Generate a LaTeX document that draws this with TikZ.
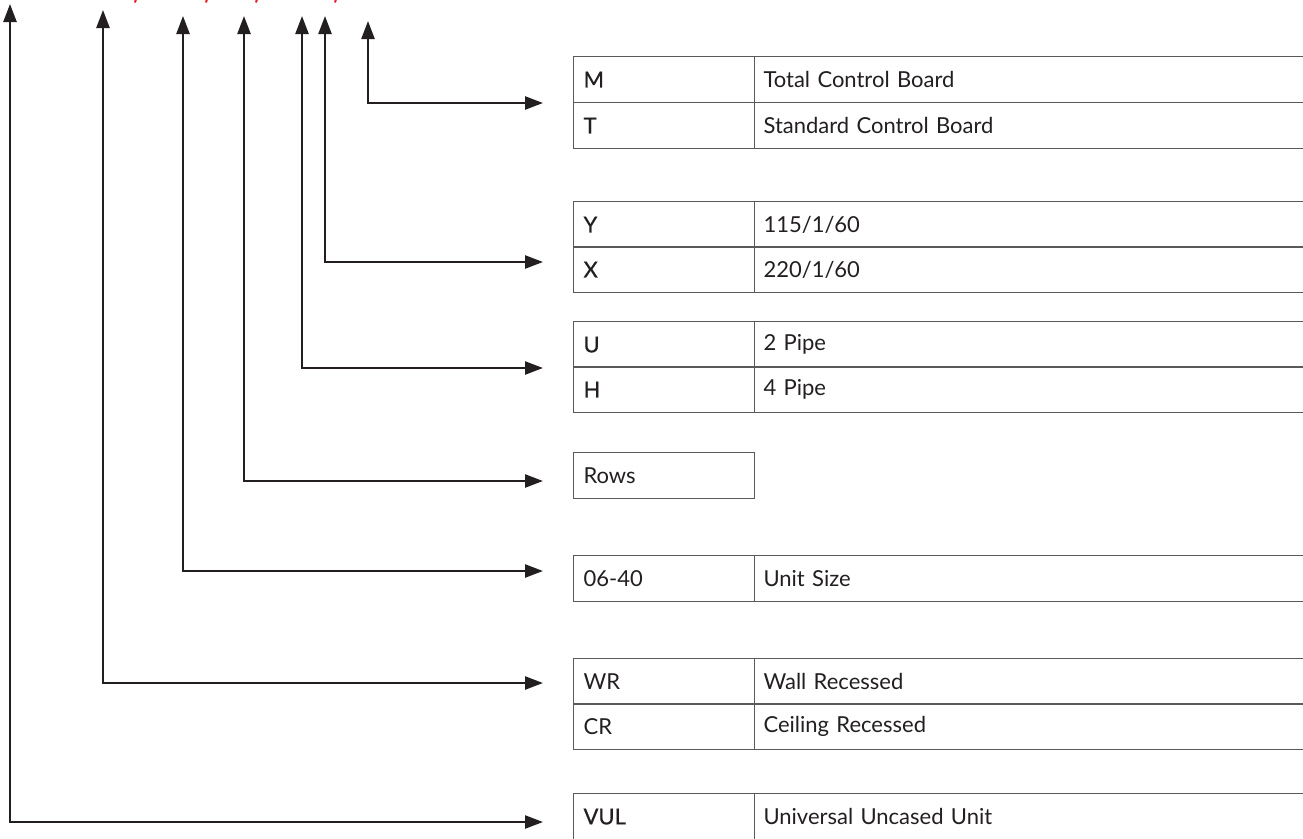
\documentclass[tikz,border=0pt]{standalone}
\usepackage{fontspec}
\setmainfont{Lato}
\newfontfamily\medfont[FakeBold=0.6]{Lato}
\usetikzlibrary{arrows.meta}
\definecolor{ink}{HTML}{231F20}
\definecolor{rulec}{HTML}{5A5A5A}
\definecolor{redmark}{HTML}{E8202A}
\tikzset{
  cellbase/.style={draw=rulec, line width=1.1pt, anchor=north west, inner ysep=0pt,
    minimum height=46pt, align=left, text=ink, font=\fontsize{22}{26}\selectfont},
  keycell/.style={cellbase, text width=161pt, inner xsep=10pt},
  valcell/.style={cellbase, text width=556pt, inner xsep=9pt},
  arr/.style={draw=ink, line width=2.4pt,
    {Triangle[length=18pt,width=13pt]}-{Triangle[length=18pt,width=13pt]}},
  redtick/.style={draw=redmark, line width=2pt}
}
\begin{document}
\begin{tikzpicture}[x=1pt,y=-1pt]
\clip (0,0) rectangle (1303,838);
\fill[white] (0,0) rectangle (1303,838);
% red fragments at the top edge
\draw[redtick] (136,-1) -- (135,2.5);
\draw[redtick] (207,-1) -- (206,2.5);
\draw[redtick] (257,-1) -- (256,2.5);
\draw[redtick] (336,-1) -- (335,2.5);
% tables
\node[keycell] (M) at (573,56) {\medfont M};
\node[valcell] (Mv) at (754,56) {Total Control Board};
\node[keycell] (T) at (573,102) {\medfont T};
\node[valcell] (Tv) at (754,102) {Standard Control Board};
\node[keycell] (Y) at (573,201) {\medfont Y};
\node[valcell] (Yv) at (754,201) {115/1/60};
\node[keycell] (X) at (573,246) {\medfont X};
\node[valcell] (Xv) at (754,246) {220/1/60};
\node[keycell] (U) at (573,321) {\medfont U};
\node[valcell] (Uv) at (754,321) {2 Pipe};
\node[keycell] (H) at (573,366) {\medfont H};
\node[valcell] (Hv) at (754,366) {4 Pipe};
\node[keycell] (Rows) at (573,452) {Rows};
\node[keycell] (Size) at (573,555) {06-40};
\node[valcell] (Sizev) at (754,555) {Unit Size};
\node[keycell] (WR) at (573,658) {WR};
\node[valcell] (WRv) at (754,658) {Wall Recessed};
\node[keycell] (CR) at (573,703) {CR};
\node[valcell] (CRv) at (754,703) {Ceiling Recessed};
\node[keycell] (VUL) at (573,793) {\medfont VUL};
\node[valcell] (VULv) at (754,793) {Universal Uncased Unit};
% arrow ends
\coordinate (s1) at (368,21); \coordinate (e1) at (543,103);
\coordinate (s2) at (325,16); \coordinate (e2) at (543,262);
\coordinate (s3) at (302,16); \coordinate (e3) at (543,368);
\coordinate (s4) at (244,16); \coordinate (e4) at (543,481);
\coordinate (s5) at (183,16); \coordinate (e5) at (543,571);
\coordinate (s6) at (103,10); \coordinate (e6) at (543,683);
\coordinate (s7) at (10,4);   \coordinate (e7) at (543,822);
\draw[arr] (s1) |- (e1);
\draw[arr] (s2) |- (e2);
\draw[arr] (s3) |- (e3);
\draw[arr] (s4) |- (e4);
\draw[arr] (s5) |- (e5);
\draw[arr] (s6) |- (e6);
\draw[arr] (s7) |- (e7);
\end{tikzpicture}
\end{document}
